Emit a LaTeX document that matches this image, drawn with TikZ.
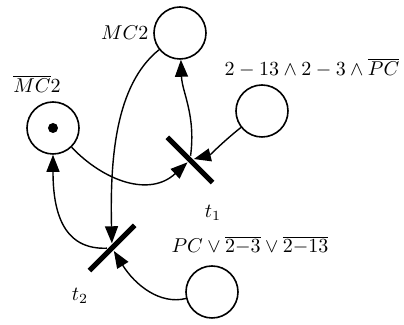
\documentclass[tikz,border=0pt]{standalone}
\usetikzlibrary{arrows.meta, positioning}
\tikzset{
  every picture/.style={line width=0.8pt},
  place/.style={draw, circle, minimum size=26pt, inner sep=0pt},
  bar/.style={fill=black, minimum width=32pt, minimum height=2.6pt, inner sep=0pt, rotate=#1},
  token/.style={fill=black, circle, minimum size=5pt, inner sep=0pt},
  arc/.style={-{Triangle[length=8.5pt, width=6.5pt]}, line width=0.7pt},
  lbl/.style={inner sep=1pt},
}

\begin{document}
\begin{tikzpicture}[x=0.5pt, y=-0.5pt]
  \useasboundingbox (0,0) rectangle (404,325);
  % places
  \node[place] (mc2) at (180,33) {};
  \node[place] (nmc2) at (53,128) {};
  \node[token] (tok) at (nmc2) {};
  \node[place] (pa) at (262,111) {};
  \node[place] (pb) at (212,292) {};
  % transitions
  \node[bar=-45] (t1) at (190,160) {};
  \node[bar=45] (t2) at (112,248) {};
  % labels
  \node[lbl, left=1pt of mc2] (mc2lbl) {$MC2$};
  \node[lbl] (nmc2lbl) at (37,84) {$\overline{MC}2$};
  \node[lbl] (palbl) at (312,68) {$2-13\wedge 2-3\wedge\overline{PC}$};
  \node[lbl] (pblbl) at (250,245) {$PC\vee\overline{2{-}3}\vee\overline{2{-}13}$};
  \node[lbl] (t1lbl) at (213,213) {$t_1$};
  \node[lbl] (t2lbl) at (80,296) {$t_2$};
  % arcs
  \draw[arc] (nmc2) .. controls (105,182) and (150,197) .. (t1);
  \draw[arc] (pa) .. controls (225,140) and (210,155) .. (t1);
  \draw[arc] (t1) .. controls (196,115) and (182,92) .. (mc2);
  \draw[arc] (mc2) .. controls (115,85) and (110,160) .. (t2);
  \draw[arc] (t2) .. controls (62,250) and (53,210) .. (nmc2);
  \draw[arc] (pb) .. controls (160,305) and (135,285) .. (t2);
\end{tikzpicture}
\end{document}
